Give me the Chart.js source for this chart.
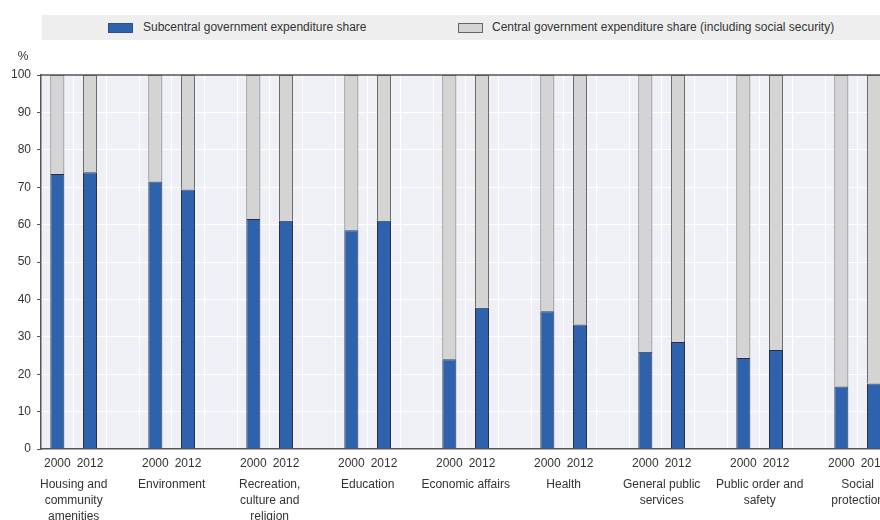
<!DOCTYPE html>
<html>
<head>
<meta charset="utf-8">
<script src="https://cdn.jsdelivr.net/npm/chart.js@4.4.1/dist/chart.umd.min.js"></script>
<style>
  html, body { margin: 0; padding: 0; background: #fff; overflow: hidden; width: 880px; height: 520px; }
  #wrap { position: absolute; left: 0; top: 0; width: 923px; height: 520px; }
  #legend { position: absolute; left: 42px; top: 15px; width: 838px; height: 25px; background: #eeeeee; font-family: "Liberation Sans", Arial, sans-serif; font-size: 12px; color: #333; }
  .sw { position: absolute; top: 8px; width: 23px; height: 8px; border: 1px solid #333; }
  .lt { position: absolute; top: 0; line-height: 25px; white-space: nowrap; }
</style>
</head>
<body>
<div id="wrap"><canvas id="c"></canvas></div>
<div id="legend"></div>
<script>
const groups = [
  ["Housing and", "community", "amenities"],
  ["Environment"],
  ["Recreation,", "culture and", "religion"],
  ["Education"],
  ["Economic affairs"],
  ["Health"],
  ["General public", "services"],
  ["Public order and", "safety"],
  ["Social", "protection"]
];
const years = ["2000", "2012"];
const sub2000 = [73.5, 71.5, 61.5, 58.5, 24.0, 36.8, 26.0, 24.3, 16.7];
const sub2012 = [74.0, 69.4, 61.0, 61.0, 37.8, 33.3, 28.6, 26.5, 17.5];
const cen2000 = [26.5, 28.5, 38.5, 41.5, 76.0, 63.2, 74.0, 75.7, 83.3];
const cen2012 = [26.0, 30.6, 39.0, 39.0, 62.2, 66.7, 71.4, 73.5, 82.5];
const seriesNames = ["Subcentral government expenditure share", "Central government expenditure share (including social security)"];
const seriesColors = ["#2f62ad", "#d4d4d4"];
const seriesBorders = ["#2a2f3a", "#6a6a6a"];
const yTicks = [0, 10, 20, 30, 40, 50, 60, 70, 80, 90, 100];

// build category slots: 2000, 2012, gap per group
const labels = [], subData = [], cenData = [];
groups.forEach((g, i) => {
  labels.push(years[0], years[1], "");
  subData.push(sub2000[i], sub2012[i], null);
  cenData.push(cen2000[i], cen2012[i], null);
});

// legend
const lg = document.getElementById('legend');
const legPos = [[66, 101], [416, 450]];
seriesNames.forEach((n, i) => {
  const s = document.createElement('div');
  s.className = 'sw';
  s.style.left = legPos[i][0] + 'px';
  s.style.background = seriesColors[i];
  s.style.borderColor = i === 0 ? '#2a4f8a' : '#666';
  lg.appendChild(s);
  const t = document.createElement('div');
  t.className = 'lt';
  t.style.left = legPos[i][1] + 'px';
  t.textContent = n;
  lg.appendChild(t);
});

const FONT = '"Liberation Sans", Arial, sans-serif';

const decor = {
  id: 'decor',
  beforeDraw(chart) {
    const { ctx, chartArea: a } = chart;
    ctx.save();
    ctx.fillStyle = '#eef0f6';
    ctx.fillRect(a.left, a.top, a.right - a.left, a.bottom - a.top);
    ctx.restore();
  },
  afterDraw(chart) {
    const { ctx, chartArea: a } = chart;
    const x = chart.scales.x;
    ctx.save();
    ctx.strokeStyle = '#555';
    ctx.lineWidth = 1.5;
    ctx.beginPath();
    ctx.moveTo(a.left, a.top);
    ctx.lineTo(a.right, a.top);
    ctx.stroke();
    ctx.fillStyle = '#333';
    ctx.font = '12px ' + FONT;
    ctx.textAlign = 'center';
    ctx.textBaseline = 'middle';
    ctx.fillText('%', 23, 57);
    groups.forEach((g, i) => {
      const cx = (x.getPixelForValue(3 * i) + x.getPixelForValue(3 * i + 1)) / 2;
      g.forEach((line, k) => {
        ctx.fillText(line, cx, a.bottom + 36 + k * 16);
      });
    });
    ctx.restore();
  }
};

new Chart(document.getElementById('c'), {
  type: 'bar',
  data: {
    labels: labels,
    datasets: [
      { label: seriesNames[0], data: subData, backgroundColor: seriesColors[0], borderColor: seriesBorders[0], borderWidth: 1, barPercentage: 0.43, categoryPercentage: 1 },
      { label: seriesNames[1], data: cenData, backgroundColor: seriesColors[1], borderColor: seriesBorders[1], borderWidth: 1, barPercentage: 0.43, categoryPercentage: 1 }
    ]
  },
  options: {
    responsive: true,
    maintainAspectRatio: false,
    animation: false,
    layout: { padding: { top: 75, left: 0, right: 0, bottom: 0 } },
    plugins: { legend: { display: false }, tooltip: { enabled: false } },
    scales: {
      x: {
        stacked: true,
        offset: true,
        grid: { color: '#ffffff', lineWidth: 1, offset: true, drawTicks: false },
        border: { color: '#555', width: 1.5 },
        ticks: { autoSkip: false, maxRotation: 0, padding: 7, color: '#333', font: { family: FONT, size: 12 } },
        afterFit(s) { s.height = 71; }
      },
      y: {
        stacked: true,
        min: 0, max: 100,
        afterBuildTicks(s) { s.ticks = yTicks.map(v => ({ value: v })); },
        grid: { color: '#ffffff', lineWidth: 1, tickColor: '#555', tickLength: 4 },
        border: { color: '#555', width: 1.5 },
        ticks: { padding: 6, color: '#333', font: { family: FONT, size: 12 } },
        afterFit(s) { s.width = 41; }
      }
    }
  },
  plugins: [decor]
});
</script>
</body>
</html>
